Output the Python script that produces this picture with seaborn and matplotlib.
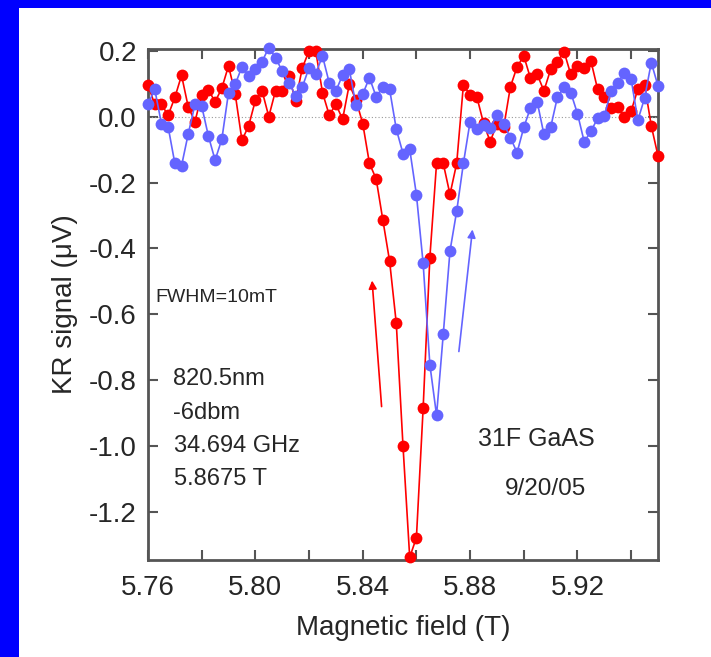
# KR signal vs magnetic field - two sweep directions (31F GaAs, 9/20/05)
import numpy as np
import pandas as pd
import matplotlib
matplotlib.use("Agg")
import matplotlib.pyplot as plt
import seaborn as sns
from matplotlib.ticker import MultipleLocator

# ---- data ----
field_start = 5.76
field_step = 0.0025

red_signal = [0.096, 0.037, 0.037, 0.004, 0.058, 0.125, 0.029, -0.015, 0.066, 0.081,
              0.045, 0.086, 0.154, 0.068, -0.072, -0.028, 0.049, 0.078, 0.0, 0.078,
              0.078, 0.123, 0.047, 0.148, 0.199, 0.199, 0.073, 0.005, 0.037, -0.008,
              0.098, 0.05, -0.021, -0.142, -0.189, -0.314, -0.438, -0.627, -0.999, -1.337,
              -1.277, -0.885, -0.428, -0.142, -0.142, -0.236, -0.142, 0.096, 0.066, 0.06,
              -0.02, -0.076, -0.021, -0.033, 0.09, 0.151, 0.184, 0.116, 0.128, 0.078,
              0.143, 0.167, 0.197, 0.128, 0.154, 0.146, 0.169, 0.083, 0.058, 0.025,
              0.029, -0.001, 0.017, 0.083, 0.096, -0.028, -0.119]

blue_signal = [0.037, 0.083, -0.021, -0.031, -0.142, -0.149, -0.052, 0.037, 0.032, -0.059,
               -0.132, -0.069, 0.073, 0.098, 0.151, 0.123, 0.143, 0.167, 0.209, 0.179,
               0.138, 0.103, 0.063, 0.09, 0.148, 0.13, 0.184, 0.103, 0.078, 0.126,
               0.143, 0.034, 0.068, 0.118, 0.06, 0.09, 0.083, -0.038, -0.112, -0.099,
               -0.237, -0.445, -0.752, -0.906, -0.66, -0.408, -0.287, -0.142, -0.015, -0.038,
               -0.025, -0.035, 0.005, -0.021, -0.064, -0.109, -0.033, 0.027, 0.045, -0.054,
               -0.033, 0.058, 0.09, 0.073, 0.009, -0.076, -0.045, -0.005, 0.002, 0.078,
               0.103, 0.133, 0.113, -0.011, 0.056, 0.164, 0.093]

field = [round(field_start + field_step * i, 4) for i in range(len(red_signal))]

x_ticks = [5.76, 5.80, 5.84, 5.88, 5.92]
y_ticks = [0.2, 0.0, -0.2, -0.4, -0.6, -0.8, -1.0, -1.2]

notes_left = ["820.5nm", "-6dbm", "34.694 GHz", "5.8675 T"]

df = pd.concat([
    pd.DataFrame({"field": field, "signal": red_signal, "sweep": "up"}),
    pd.DataFrame({"field": field, "signal": blue_signal, "sweep": "down"}),
])

# ---- style ----
sns.set_style("ticks")
plt.rcParams["font.family"] = ["Liberation Sans", "DejaVu Sans"]
plt.rcParams["axes.unicode_minus"] = False

RED = "#ff0000"
BLUE = "#6464ff"
FRAME = "#555555"

fig = plt.figure(figsize=(7.11, 6.57), dpi=100, facecolor="white")
# blue slide border: strip along the top and the left edge
fig.add_artist(plt.Rectangle((0, 1 - 8 / 657), 1, 8 / 657, transform=fig.transFigure,
                             facecolor="#0000ff", edgecolor="none"))
fig.add_artist(plt.Rectangle((0, 0), 19 / 711, 1, transform=fig.transFigure,
                             facecolor="#0000ff", edgecolor="none"))

ax = fig.add_axes([148 / 711, 1 - 560 / 657, (658 - 148) / 711, (560 - 49) / 657])
ax.set_facecolor("white")

ax.axhline(0, color="#999999", lw=0.8, ls=(0, (1, 2)), zorder=1)

sns.lineplot(data=df, x="field", y="signal", hue="sweep", palette={"up": RED, "down": BLUE},
             hue_order=["up", "down"], marker="o", markersize=8.5, markeredgewidth=0,
             linewidth=1.2, legend=False, ax=ax, clip_on=False, zorder=3)

ax.set_xlim(5.76, 5.95)
ax.set_ylim(-1.345, 0.205)

ax.set_xticks(x_ticks)
ax.set_xticklabels([f"{v:.2f}" for v in x_ticks])
ax.xaxis.set_minor_locator(MultipleLocator(0.02))
ax.set_yticks(y_ticks)
ax.set_yticklabels([f"{v:.1f}" for v in y_ticks])

ax.tick_params(which="both", direction="in", top=True, right=True, length=7, width=1.5,
               color=FRAME, labelsize=20, pad=8)
ax.tick_params(axis="x", pad=11)
for side in ax.spines.values():
    side.set_color(FRAME)
    side.set_linewidth(2)

ax.set_xlabel("Magnetic field (T)", fontsize=20, labelpad=10)
ax.set_ylabel("KR signal (\u03bcV)", fontsize=20, labelpad=8)

# sweep-direction arrows
ax.annotate("", xy=(5.8434, -0.489), xytext=(5.8471, -0.888),
            arrowprops=dict(arrowstyle="-|>", color=RED, lw=1.2, mutation_scale=12))
ax.annotate("", xy=(5.881, -0.334), xytext=(5.8757, -0.721),
            arrowprops=dict(arrowstyle="-|>", color=BLUE, lw=1.2, mutation_scale=12))

# annotations
ax.text(5.7626, -0.548, "FWHM=10mT", fontsize=14, va="center", ha="left")
for k, line in enumerate(notes_left):
    ax.text(5.7695, -0.797 - k * 0.101, line, fontsize=17, va="center", ha="left")
ax.text(5.9046, -0.979, "31F GaAS", fontsize=18, va="center", ha="center")
ax.text(5.908, -1.13, "9/20/05", fontsize=17.5, va="center", ha="center")

fig.savefig("out.png", dpi=100, facecolor=fig.get_facecolor())
print("saved out.png")
